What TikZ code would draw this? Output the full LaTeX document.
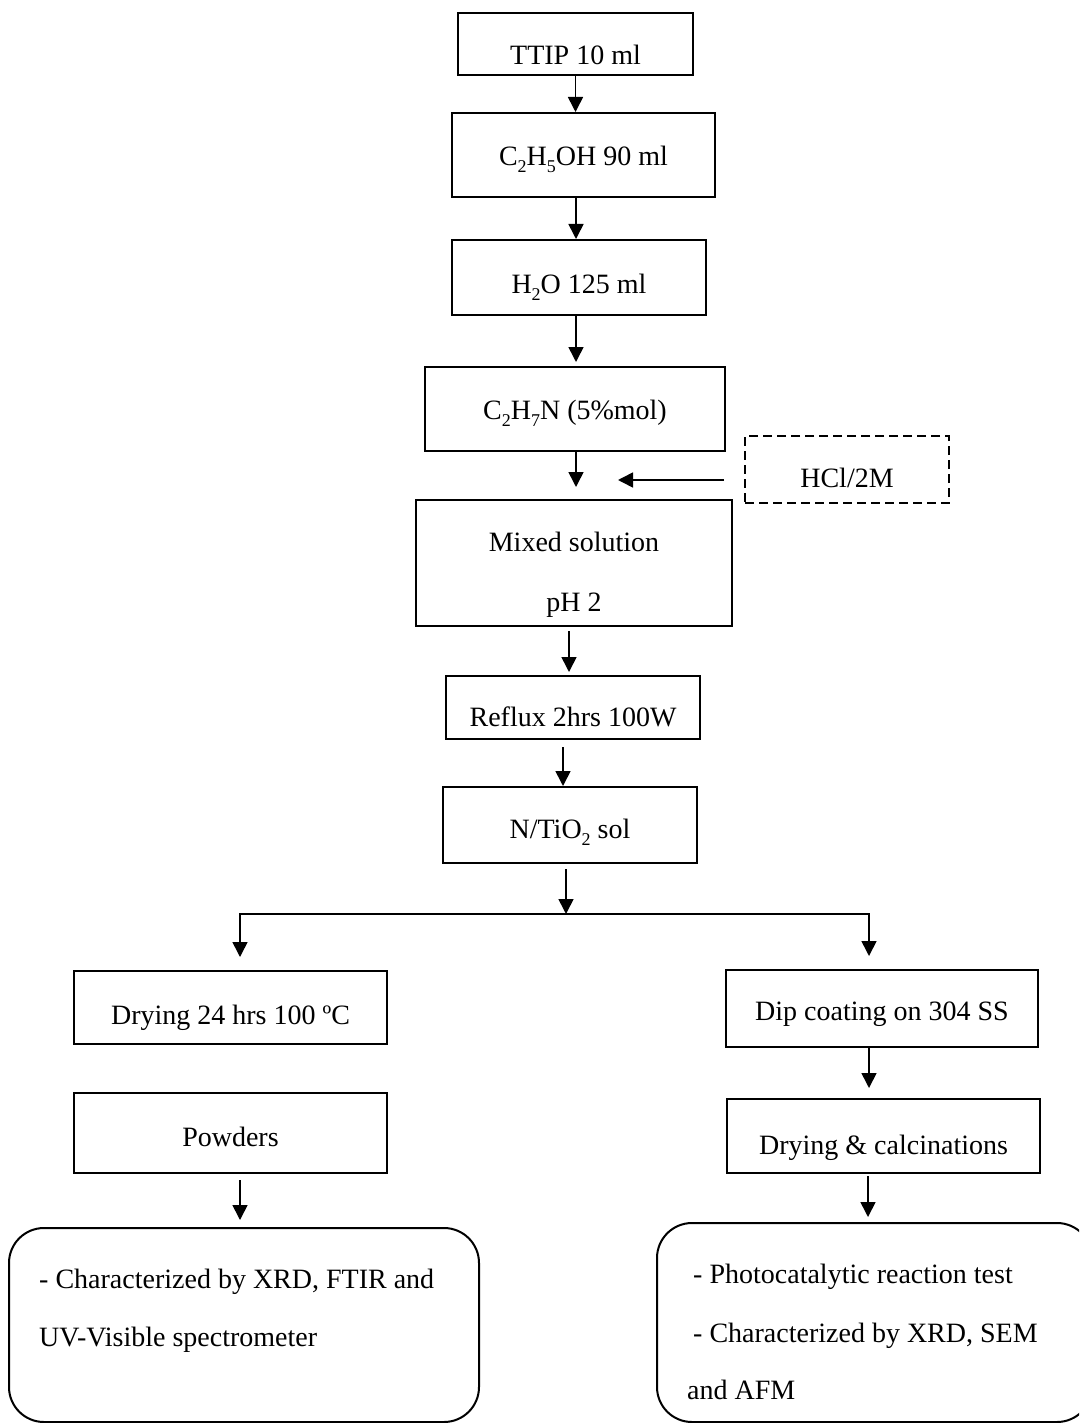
\documentclass[tikz,border=0pt]{standalone}
\usepackage{fontspec}
\setmainfont{Liberation Serif}
\usetikzlibrary{arrows.meta,calc}
\newcommand\sbs[1]{\raisebox{-7pt}{\fontsize{18}{18}\selectfont #1}}
\begin{document}
\begin{tikzpicture}[x=1pt,y=-1pt,
  box/.style={draw, line width=2pt, inner sep=0pt, text height=19pt, text depth=0pt, font=\fontsize{28}{34}\selectfont},
  txt/.style={inner sep=0pt, text height=19pt, text depth=0pt, font=\fontsize{28}{34}\selectfont, anchor=west},
  arr/.style={line width=1.6pt, -{Triangle[width=15pt,length=15pt]}},
  rbox/.style={draw, line width=2pt, rounded corners=35pt, inner sep=0pt}
]
\useasboundingbox (0,0) rectangle (1079,1423);
\clip (0,0) rectangle (1079,1423);

% main column
\node[box, minimum width=235pt, minimum height=62pt] (ttip) at (575.5,44) {\raisebox{-11pt}{TTIP 10 ml}};
\node[box, minimum width=263pt, minimum height=84pt] (c2) at (583.5,155) {\raisebox{-1pt}{C\sbs{2}H\sbs{5}OH 90 ml}};
\node[box, minimum width=254pt, minimum height=75pt] (h2o) at (579,277.5) {\raisebox{-6.5pt}{H\sbs{2}O 125 ml}};
\node[box, minimum width=300pt, minimum height=84pt] (c2h7n) at (575,409) {\raisebox{-1pt}{C\sbs{2}H\sbs{7}N (5\%mol)}};
\node[box, dashed, dash pattern=on 9pt off 5pt, minimum width=204pt, minimum height=67pt] (hcl) at (847,469.5) {\raisebox{-8.5pt}{HCl/2M}};
\node[box, minimum width=316pt, minimum height=126pt] (mixed) at (574,563) {\makebox[0pt]{\raisebox{21pt}{Mixed solution}}\makebox[0pt]{\raisebox{-39pt}{pH 2}}};
\node[box, minimum width=254pt, minimum height=63pt] (reflux) at (573,707.5) {\raisebox{-9.5pt}{Reflux 2hrs 100W}};
\node[box, minimum width=254pt, minimum height=76pt] (ntio2) at (570,825) {\raisebox{-4pt}{N/TiO\sbs{2} sol}};

% branches
\node[box, minimum width=313pt, minimum height=73pt] (dry) at (230.5,1007.5) {\raisebox{-7.5pt}{Drying 24 hrs 100 ºC}};
\node[box, minimum width=313pt, minimum height=80pt] (powders) at (230.5,1133) {\raisebox{-4pt}{Powders}};
\node[box, minimum width=312pt, minimum height=77pt] (dip) at (882,1008.5) {\raisebox{-2.5pt}{Dip coating on 304 SS}};
\node[box, minimum width=313pt, minimum height=74pt] (calc) at (883.5,1136) {\raisebox{-9pt}{Drying \& calcinations}};

% result boxes
\node[rbox, minimum width=470pt, minimum height=194pt] (lres) at (244,1325) {};
\node[rbox, minimum width=435pt, minimum height=199pt] (rres) at (874.5,1322.5) {};
\node[txt] (l1) at (39,1279) {- Characterized by XRD, FTIR and};
\node[txt] (l2) at (39,1337) {UV-Visible spectrometer};
\node[txt] (r1) at (693,1274) {- Photocatalytic reaction test};
\node[txt] (r2) at (693,1333) {- Characterized by XRD, SEM};
\node[txt] (r3) at (687,1390) {and AFM};

% connectors
\draw[arr] (ttip.south) -- (ttip.south |- c2.north);
\draw[arr] ([xshift=-7.5pt]c2.south) -- ([xshift=-7.5pt]c2.south |- h2o.north);
\draw[arr, shorten >=4pt] ([xshift=-3pt]h2o.south) -- ([xshift=-3pt]h2o.south |- c2h7n.north);
\draw[arr, shorten >=12pt] ([xshift=1pt]c2h7n.south) -- ([xshift=1pt]c2h7n.south |- mixed.north);
\coordinate (hclend) at (618,480);
\draw[arr, shorten <=20pt] ([yshift=-10.5pt]hcl.west) -- (hclend);
\draw[arr, shorten <=4pt, shorten >=3pt] ([xshift=-5pt]mixed.south) -- ([xshift=-5pt]mixed.south |- reflux.north);
\draw[arr, shorten <=7pt] ([xshift=-10pt]reflux.south) -- ([xshift=-10pt]reflux.south |- ntio2.north);
\coordinate (split) at (566,914);
\draw[arr, shorten <=5pt] ([xshift=-4pt]ntio2.south) -- (split);
\coordinate (sl) at (240,914);
\coordinate (sr) at (869,914);
\draw[arr, shorten >=13pt] (sr) -- (sl) -- (sl |- dry.north);
\draw[arr, shorten >=13pt] (sl) -- (sr) -- (sr |- dip.north);
\draw[arr, shorten >=10pt] ([xshift=-13pt]dip.south) -- ([xshift=-13pt]dip.south |- calc.north);
\draw[arr, shorten <=6pt, shorten >=7pt] ([xshift=9.5pt]powders.south) -- ([xshift=9.5pt]powders.south |- lres.north);
\draw[arr, shorten <=2pt, shorten >=5pt] ([xshift=-15.5pt]calc.south) -- ([xshift=-15.5pt]calc.south |- rres.north);
\end{tikzpicture}
\end{document}
